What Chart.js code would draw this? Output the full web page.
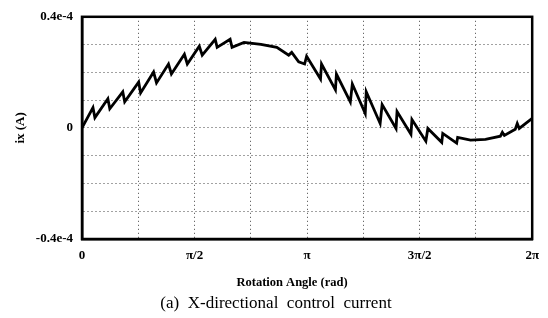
<!DOCTYPE html>
<html>
<head>
<meta charset="utf-8">
<script src="https://cdn.jsdelivr.net/npm/chart.js@4"></script>
<style>
  html, body { margin: 0; padding: 0; background: #fff; }
  #wrap { width: 548px; height: 318px; }
</style>
</head>
<body>
<div id="wrap"><canvas id="myChart" width="548" height="318"></canvas></div>
<script>
// rotation angle (rad) of each traced point
const angle = [
  0, 0.153, 0.180, 0.361, 0.388, 0.569, 0.596, 0.791, 0.818, 0.999,
  1.040, 1.207, 1.248, 1.429, 1.470, 1.637, 1.678, 1.859, 1.886, 2.067,
  2.094, 2.261, 2.497, 2.719, 2.885, 2.927, 3.024, 3.107, 3.135, 3.329,
  3.343, 3.537, 3.551, 3.745, 3.773, 3.953, 3.967, 4.161, 4.189, 4.383,
  4.397, 4.591, 4.605, 4.799, 4.827, 5.021, 5.035, 5.229, 5.243, 5.423,
  5.631, 5.839, 5.867, 5.895, 6.047, 6.075, 6.103, 6.283
];
// x-directional control current ix (A)
const current = [
  0, 0.73e-5, 0.37e-5, 1.05e-5, 0.69e-5, 1.30e-5, 0.94e-5, 1.65e-5, 1.26e-5, 2.01e-5,
  1.62e-5, 2.30e-5, 1.94e-5, 2.65e-5, 2.30e-5, 2.94e-5, 2.62e-5, 3.19e-5, 2.90e-5, 3.19e-5,
  2.90e-5, 3.08e-5, 3.01e-5, 2.90e-5, 2.62e-5, 2.72e-5, 2.38e-5, 2.30e-5, 2.58e-5, 1.76e-5,
  2.30e-5, 1.37e-5, 1.94e-5, 0.94e-5, 1.58e-5, 0.52e-5, 1.30e-5, 0.16e-5, 0.84e-5, -0.02e-5,
  0.59e-5, -0.23e-5, 0.30e-5, -0.48e-5, -0.02e-5, -0.52e-5, -0.20e-5, -0.55e-5, -0.34e-5, -0.44e-5,
  -0.41e-5, -0.30e-5, -0.16e-5, -0.27e-5, -0.05e-5, 0.16e-5, -0.02e-5, 0.34e-5
];

// x grid every pi/4, labels every pi/2
const xTicks = [0, Math.PI / 4, Math.PI / 2, 3 * Math.PI / 4, Math.PI,
  5 * Math.PI / 4, 3 * Math.PI / 2, 7 * Math.PI / 4, 2 * Math.PI];
const xLabels = ['0', '', 'π/2', '', 'π', '', '3π/2', '', '2π'];

const yTicks = [-4e-5, -3e-5, -2e-5, -1e-5, 0, 1e-5, 2e-5, 3e-5, 4e-5];
const yLabels = ['-0.4e-4', '', '', '', '0', '', '', '', '0.4e-4'];

const points = angle.map((a, i) => ({ x: a, y: current[i] }));

const serif = '"Liberation Serif", "DejaVu Serif", serif';

const framePlugin = {
  id: 'frame',
  afterDraw(chart) {
    const { ctx, chartArea: a } = chart;
    ctx.save();
    ctx.strokeStyle = '#000';
    ctx.lineWidth = 2.5;
    ctx.strokeRect(a.left, a.top, a.right - a.left, a.bottom - a.top);
    ctx.fillStyle = '#000';
    ctx.textAlign = 'center';
    ctx.textBaseline = 'middle';
    ctx.font = 'bold 12.5px ' + serif;
    ctx.fillText('Rotation Angle (rad)', 292, 283);
    ctx.font = '17px ' + serif;
    ctx.fillText('(a)  X-directional  control  current', 276, 304);
    ctx.restore();
  }
};

const ctx = document.getElementById('myChart');
const myChart = new Chart(ctx, {
  type: 'line',
  data: {
    datasets: [{
      data: points,
      borderColor: '#000',
      borderWidth: 2.8,
      pointRadius: 0,
      tension: 0,
      fill: false
    }]
  },
  options: {
    responsive: false,
    animation: false,
    layout: { padding: { top: 14, right: 13, left: 0, bottom: 0 } },
    plugins: {
      legend: { display: false },
      tooltip: { enabled: false }
    },
    scales: {
      x: {
        type: 'linear',
        min: 0,
        max: 2 * Math.PI,
        afterBuildTicks: (scale) => { scale.ticks = xTicks.map(v => ({ value: v })); },
        afterFit: (scale) => { scale.height = 79; },
        ticks: {
          autoSkip: false,
          maxRotation: 0,
          padding: 9,
          color: '#000',
          font: { family: serif, size: 13, weight: 'bold' },
          callback: (v, i) => xLabels[i]
        },
        grid: { color: '#444', drawTicks: false },
        border: { color: '#000', width: 2.5, dash: [1, 3] }
      },
      y: {
        min: -4e-5,
        max: 4e-5,
        afterBuildTicks: (scale) => { scale.ticks = yTicks.map(v => ({ value: v })); },
        afterFit: (scale) => { scale.width = 82; },
        ticks: {
          autoSkip: false,
          padding: 9,
          color: '#000',
          font: { family: serif, size: 13, weight: 'bold' },
          callback: (v, i) => yLabels[i]
        },
        grid: { color: '#444', drawTicks: false },
        border: { color: '#000', width: 2.5, dash: [1, 3] },
        title: {
          display: true,
          text: 'ix (A)',
          color: '#000',
          font: { family: serif, size: 13, weight: 'bold' },
          padding: { top: 13, bottom: 0 }
        }
      }
    }
  },
  plugins: [framePlugin]
});
</script>
</body>
</html>
